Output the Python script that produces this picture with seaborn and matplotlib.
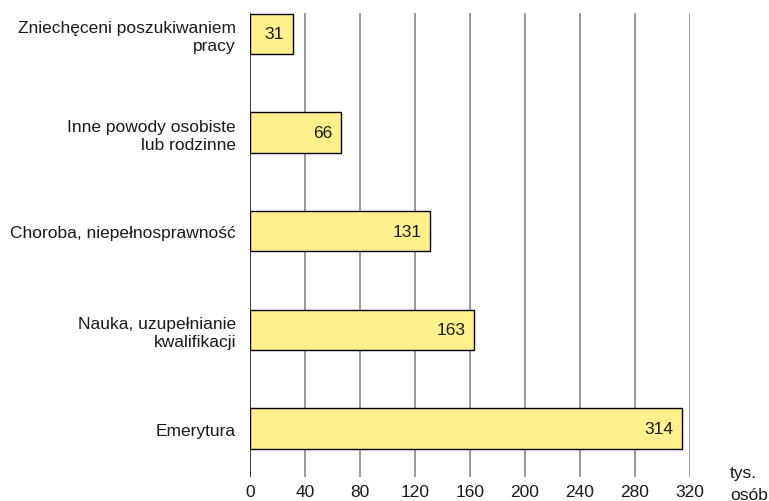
import matplotlib
matplotlib.use("Agg")
import matplotlib.pyplot as plt
import seaborn as sns
import pandas as pd

# Data
categories = [
    "Zniechęceni poszukiwaniem\npracy",
    "Inne powody osobiste\nlub rodzinne",
    "Choroba, niepełnosprawność",
    "Nauka, uzupełnianie\nkwalifikacji",
    "Emerytura",
]
values = [31, 66, 131, 163, 314]
x_ticks = [0, 40, 80, 120, 160, 200, 240, 280, 320]
unit_label = "tys.\nosób"


def make_chart():
    sns.set_style("white")
    plt.rcParams["font.family"] = ["Liberation Sans", "DejaVu Sans"]

    df = pd.DataFrame({"powod": categories, "liczba": values})

    fig = plt.figure(figsize=(7.69, 5.02), dpi=100)
    ax = fig.add_axes([0.325, 0.048, 0.572, 0.924])

    sns.barplot(data=df, x="liczba", y="powod", orient="h", color="#FFF08C",
                saturation=1, edgecolor="black", linewidth=1, width=0.41, ax=ax)

    # vertical grid, zero line in black
    ax.set_axisbelow(True)
    for t in x_ticks:
        ax.axvline(t, color="black" if t == 0 else "#7f7f7f", lw=1.1, zorder=0)

    ax.set_xlim(0, 320)
    ax.set_ylim(4.49, -0.21)
    ax.set_xticks(x_ticks)
    ax.set_xticklabels([str(t) for t in x_ticks])
    ax.set_xlabel("")
    ax.set_ylabel("")
    ax.tick_params(axis="both", length=0, labelsize=12.5, colors="#1a1a1a")
    ax.tick_params(axis="x", pad=5)
    ax.tick_params(axis="y", pad=10)
    for lbl in ax.get_yticklabels():
        lbl.set_linespacing(1.25)
    for s in ax.spines.values():
        s.set_visible(False)

    # value labels inside bars
    for i, v in enumerate(values):
        ax.annotate(str(v), xy=(v, i), xytext=(-6, 0), textcoords="offset points",
                    ha="right", va="center", fontsize=12.5, color="#1a1a1a")

    fig.text(0.949, 0.035, unit_label, ha="left", va="center", fontsize=12.5,
             color="#1a1a1a", linespacing=1.55)

    fig.savefig("out.png", dpi=100)
    plt.close(fig)


if __name__ == "__main__":
    make_chart()
